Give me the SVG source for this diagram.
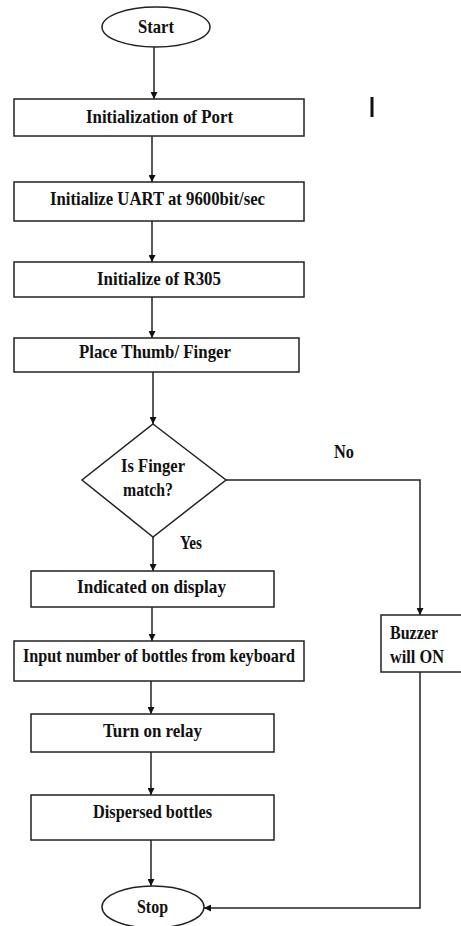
<svg xmlns="http://www.w3.org/2000/svg" width="461" height="926" viewBox="0 0 461 926">
<style>
.s{fill:#fff;stroke:#222;stroke-width:1.5}
.c{fill:none;stroke:#222;stroke-width:1.5}
.t{font-family:"Liberation Serif","Times New Roman",serif;font-weight:bold;font-size:19px;fill:#111;text-anchor:middle}
.l{text-anchor:start}
</style>
<defs>
<marker id="ah" viewBox="0 0 10 10" refX="10" refY="5" markerWidth="7" markerHeight="7" markerUnits="userSpaceOnUse" orient="auto">
<path d="M0,0 L10,5 L0,10 Z" fill="#111"/>
</marker>
</defs>
<rect width="461" height="926" fill="#fff"/>
<g id="connectors">
<line class="c" x1="154" y1="47" x2="154" y2="99" marker-end="url(#ah)"/>
<line class="c" x1="152" y1="136" x2="152" y2="182" marker-end="url(#ah)"/>
<line class="c" x1="152" y1="221" x2="152" y2="262" marker-end="url(#ah)"/>
<line class="c" x1="152" y1="297" x2="152" y2="338" marker-end="url(#ah)"/>
<line class="c" x1="153" y1="372" x2="153" y2="424" marker-end="url(#ah)"/>
<line class="c" x1="153" y1="537" x2="153" y2="571" marker-end="url(#ah)"/>
<polyline class="c" points="226,480 420,480 420,615" marker-end="url(#ah)"/>
<line class="c" x1="152" y1="607" x2="152" y2="641" marker-end="url(#ah)"/>
<line class="c" x1="151" y1="681" x2="151" y2="714" marker-end="url(#ah)"/>
<line class="c" x1="151" y1="752" x2="151" y2="795" marker-end="url(#ah)"/>
<line class="c" x1="151" y1="840" x2="151" y2="886" marker-end="url(#ah)"/>
<polyline class="c" points="420,672 420,908 204,908" marker-end="url(#ah)"/>
<text class="t" x="344" y="458" textLength="20" lengthAdjust="spacingAndGlyphs">No</text>
<text class="t" x="191" y="549" textLength="22" lengthAdjust="spacingAndGlyphs">Yes</text>
</g>
<g id="start">
<ellipse class="s" cx="156" cy="27" rx="54" ry="20"/>
<text class="t" x="156" y="33" textLength="36" lengthAdjust="spacingAndGlyphs">Start</text>
</g>
<line x1="372" y1="97" x2="372" y2="117" stroke="#111" stroke-width="3"/>
<g id="init-port">
<rect class="s" x="14" y="99" width="290" height="37"/>
<text class="t" x="159.5" y="123" textLength="147" lengthAdjust="spacingAndGlyphs">Initialization of Port</text>
</g>
<g id="init-uart">
<rect class="s" x="14" y="182" width="290" height="39"/>
<text class="t" x="157.5" y="205" textLength="215" lengthAdjust="spacingAndGlyphs">Initialize UART at 9600bit/sec</text>
</g>
<g id="init-r305">
<rect class="s" x="14" y="262" width="290" height="35"/>
<text class="t" x="159" y="285" textLength="124" lengthAdjust="spacingAndGlyphs">Initialize of R305</text>
</g>
<g id="place-finger">
<rect class="s" x="14" y="338" width="285" height="34"/>
<text class="t" x="155" y="358" textLength="152" lengthAdjust="spacingAndGlyphs">Place Thumb/ Finger</text>
</g>
<g id="decision">
<polygon class="s" points="153,424 226,480 153,537 82,480"/>
<text class="t" x="153" y="472" textLength="64" lengthAdjust="spacingAndGlyphs">Is Finger</text>
<text class="t" x="148" y="496" textLength="50" lengthAdjust="spacingAndGlyphs">match?</text>
</g>
<g id="display">
<rect class="s" x="31" y="571" width="243" height="36"/>
<text class="t" x="151.5" y="593" textLength="149" lengthAdjust="spacingAndGlyphs">Indicated on display</text>
</g>
<g id="input">
<rect class="s" x="14" y="641" width="290" height="40"/>
<text class="t" x="159" y="662" textLength="272" lengthAdjust="spacingAndGlyphs">Input number of bottles from keyboard</text>
</g>
<g id="relay">
<rect class="s" x="31" y="714" width="243" height="38"/>
<text class="t" x="152.5" y="737" textLength="99" lengthAdjust="spacingAndGlyphs">Turn on relay</text>
</g>
<g id="dispersed">
<rect class="s" x="31" y="795" width="243" height="45"/>
<text class="t" x="152.5" y="818" textLength="119" lengthAdjust="spacingAndGlyphs">Dispersed bottles</text>
</g>
<g id="buzzer">
<rect class="s" x="381" y="615" width="90" height="57"/>
<text class="t l" x="390" y="639" textLength="48" lengthAdjust="spacingAndGlyphs">Buzzer</text>
<text class="t l" x="390" y="663" textLength="54" lengthAdjust="spacingAndGlyphs">will ON</text>
</g>
<g id="stop">
<ellipse class="s" cx="153" cy="907" rx="51" ry="21"/>
<text class="t" x="152.5" y="913" textLength="31" lengthAdjust="spacingAndGlyphs">Stop</text>
</g>
</svg>
